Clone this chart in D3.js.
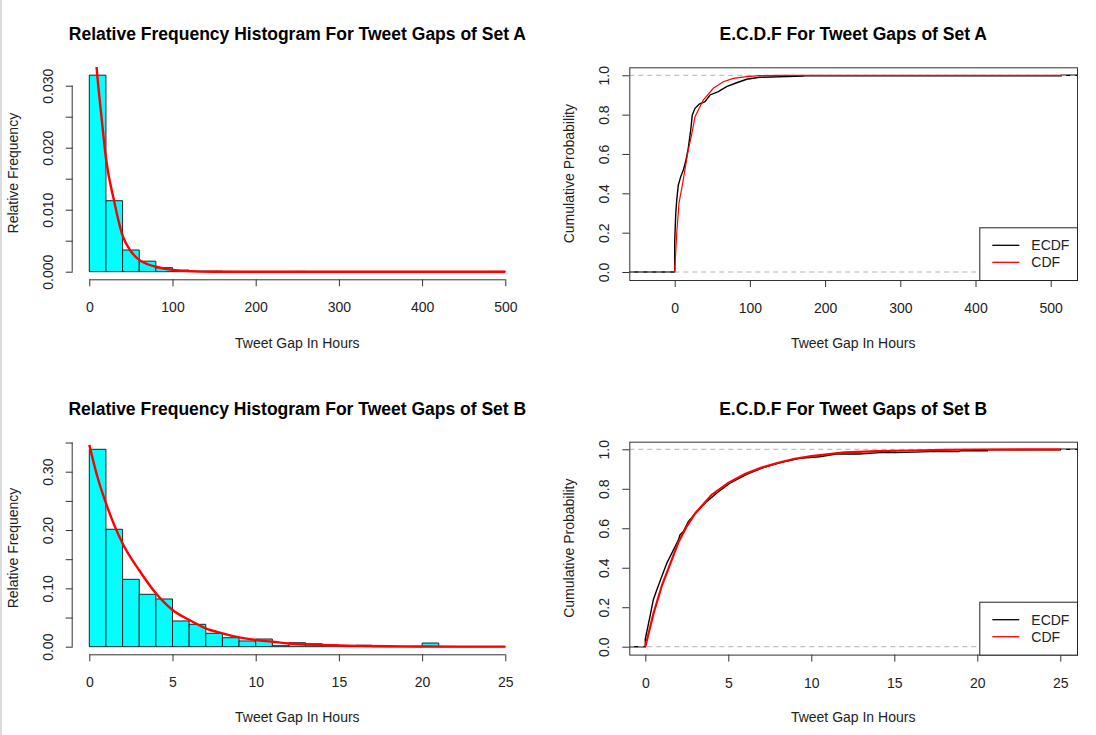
<!DOCTYPE html>
<html>
<head>
<meta charset="utf-8">
<script src="https://cdn.jsdelivr.net/npm/d3@7"></script>
<style>
    body { margin: 0; background: #fff; }
    svg { display: block; font-family: "Liberation Sans", Arial, sans-serif; }
</style>
</head>
<body>
<svg id="main"></svg>
<script>
const width = 1096;
const height = 735;

// DATA -------------------------------------------
// histogram of set A (20 hour bins)
const breaksA = [0, 20, 40, 60, 80, 100, 120, 140, 160, 180, 200, 220, 240, 260, 280, 300,
    320, 340, 360, 380, 400, 420, 440, 460, 480, 500];
const relFreqA = [0.0317, 0.01145, 0.0035, 0.0017, 0.00065, 0.00025, 0.0001, 0.0001, 0.00005, 0,
    0, 0, 0.00005, 0, 0, 0, 0, 0, 0, 0, 0, 0, 0, 0, 0.00005];
// fitted density, set A
const densAx = [0, 8.8, 15, 20, 30, 40, 50, 60, 70, 80, 100, 120, 150, 200, 300, 500];
const densAy = [0.05, 0.0329, 0.0245, 0.0183, 0.0113, 0.0058, 0.0033, 0.0019, 0.0012, 0.0008,
    0.0003, 0.0001, 0, 0, 0, 0];

// histogram of set B (1 hour bins)
const breaksB = [0, 1, 2, 3, 4, 5, 6, 7, 8, 9, 10, 11, 12, 13, 14, 15, 16, 17, 18, 19, 20,
    21, 22, 23, 24, 25];
const relFreqB = [0.3384, 0.2013, 0.1155, 0.0898, 0.0818, 0.0441, 0.0384, 0.0230, 0.0154, 0.0098,
    0.0132, 0.0017, 0.0068, 0.005, 0.003, 0.002, 0.0025, 0, 0, 0, 0.0063, 0, 0, 0, 0];
// fitted density, set B
const densBx = [0, 0.5, 1, 2, 3, 4, 5, 6, 7, 8, 9, 10, 11, 12, 14, 16, 18, 20, 25];
const densBy = [0.346, 0.29, 0.246, 0.177, 0.131, 0.0915, 0.063, 0.046, 0.0315, 0.023, 0.016,
    0.0115, 0.0086, 0.0055, 0.003, 0.0015, 0.0008, 0.0004, 0.0001];

// empirical cdf, set A
const ecdfAx = [0, 0, 1.3, 2.7, 4.8, 8, 11.5, 15, 18, 21.3, 23.4, 27, 32.7, 40.3, 47, 58, 69,
    82.4, 95.7, 113, 171, 171, 514, 514];
const ecdfAy = [0, 0.154, 0.29, 0.366, 0.442, 0.485, 0.519, 0.569, 0.629, 0.722, 0.798, 0.832,
    0.854, 0.866, 0.90, 0.917, 0.942, 0.962, 0.98, 0.99, 0.996, 0.998, 0.998, 1];
// fitted cdf, set A
const cdfAx = [0, 2.7, 5.7, 10.6, 18, 22.6, 27, 38, 51.3, 64.6, 78, 95.7, 113, 150, 514];
const cdfAy = [0, 0.197, 0.35, 0.451, 0.62, 0.70, 0.79, 0.874, 0.934, 0.967, 0.984, 0.993,
    0.998, 1, 1];

// empirical cdf, set B
const ecdfBx = [0, 0, 0.28, 0.48, 0.69, 0.99, 1.29, 1.69, 1.99, 2.09, 2.29, 2.59, 3.1, 3.7, 4.4,
    5.1, 6.1, 7.1, 8.1, 9.3, 10.5, 11.5, 12.9, 14.1, 15.1, 17.2, 18.9, 19, 20.6, 20.6, 25, 25];
const ecdfBy = [0, 0.04, 0.152, 0.237, 0.287, 0.355, 0.422, 0.49, 0.54, 0.566, 0.583, 0.633,
    0.684, 0.735, 0.785, 0.828, 0.873, 0.907, 0.932, 0.954, 0.962, 0.976, 0.976, 0.983, 0.983,
    0.988, 0.988, 0.993, 0.993, 0.997, 0.997, 1];
// fitted cdf, set B
const cdfBx = [0, 0.5, 1, 1.5, 2, 2.5, 3, 4, 5, 6, 7, 8, 9, 10, 12, 14, 16, 18, 20, 25];
const cdfBy = [0, 0.17, 0.31, 0.42, 0.53, 0.61, 0.675, 0.77, 0.83, 0.875, 0.907, 0.932, 0.952,
    0.966, 0.984, 0.991, 0.994, 0.997, 0.999, 1];

// ticks
const ticksHours = [0, 100, 200, 300, 400, 500];
const ticksHoursB = [0, 5, 10, 15, 20, 25];
const histAyTicks = [0, 0.005, 0.01, 0.015, 0.02, 0.025, 0.03];
const histAyLabels = ['0.000', '', '0.010', '', '0.020', '', '0.030'];
const histByTicks = [0, 0.05, 0.1, 0.15, 0.2, 0.25, 0.3, 0.35];
const histByLabels = ['0.00', '', '0.10', '', '0.20', '', '0.30', ''];
const probTicks = [0, 0.2, 0.4, 0.6, 0.8, 1];
const probLabels = ['0.0', '0.2', '0.4', '0.6', '0.8', '1.0'];

const titles = [
    'Relative Frequency Histogram For Tweet Gaps of Set A',
    'E.C.D.F For Tweet Gaps of Set A',
    'Relative Frequency Histogram For Tweet Gaps of Set B',
    'E.C.D.F For Tweet Gaps of Set B',
];
const legendLabels = ['ECDF', 'CDF'];
const legendColors = ['#000000', '#FF0000'];

// SETUP -------------------------------------------
const root = d3.select('svg#main')
    .attr('width', width)
    .attr('height', height);

root.append('rect')
    .attr('width', width).attr('height', height).attr('fill', '#fff');
root.append('rect')
    .attr('x', 0).attr('y', 0).attr('width', 2).attr('height', height).attr('fill', '#dcdcdc');

const axisColor = '#333';
const fontSize = 14;

function zip(xs, ys) {
    return xs.map((x, i) => [x, ys[i]]);
}

function styleAxis(g) {
    g.selectAll('.tick line').attr('stroke', axisColor);
    g.selectAll('.tick text')
        .attr('fill', '#222')
        .style('font-size', fontSize + 'px')
        .style('font-family', '"Liberation Sans", Arial, sans-serif');
}

function bottomAxis(g, x, ticks, yPos) {
    const ax = g.append('g')
        .attr('transform', `translate(0,${yPos})`)
        .call(d3.axisBottom(x).tickValues(ticks).tickSize(7).tickFormat(d3.format('d')));
    ax.select('.domain').remove();
    styleAxis(ax);
    ax.selectAll('.tick text').attr('y', 33).attr('dy', 0);
    return ax;
}

function leftAxis(g, y, ticks, labels, xPos) {
    const ax = g.append('g')
        .attr('transform', `translate(${xPos},0)`)
        .call(d3.axisLeft(y).tickValues(ticks).tickSize(7).tickFormat((d, i) => labels[i]));
    ax.select('.domain').remove();
    styleAxis(ax);
    ax.selectAll('.tick text')
        .attr('x', 0).attr('y', -20).attr('dy', 0)
        .attr('text-anchor', 'middle')
        .attr('transform', 'rotate(-90)');
    return ax;
}

function panelText(g, p, title, ylab) {
    g.append('text')
        .text(title)
        .attr('x', (p.box[0] + p.box[1]) / 2)
        .attr('y', p.titleY)
        .attr('text-anchor', 'middle')
        .style('font-weight', 'bold')
        .style('font-size', '17.5px')
        .attr('fill', '#000');
    g.append('text')
        .text('Tweet Gap In Hours')
        .attr('x', (p.box[0] + p.box[1]) / 2)
        .attr('y', p.xlabY)
        .attr('text-anchor', 'middle')
        .style('font-size', fontSize + 'px')
        .attr('fill', '#222');
    g.append('text')
        .text(ylab)
        .attr('transform', `translate(${p.ylabX},${(p.box[2] + p.box[3]) / 2}) rotate(-90)`)
        .attr('text-anchor', 'middle')
        .style('font-size', fontSize + 'px')
        .attr('fill', '#222');
}

// HISTOGRAMS -------------------------------------------
function drawHist(p) {
    const g = root.append('g');
    const x = d3.scaleLinear().domain(p.xDomain).range(p.xRange);
    const y = d3.scaleLinear().domain(p.yDomain).range(p.yRange);

    const bins = p.freq.map((f, i) => ({ lo: p.breaks[i], hi: p.breaks[i + 1], f: f }));
    g.selectAll('.bar')
        .data(bins).enter()
        .append('path')
        .attr('class', 'bar')
        .attr('d', d => `M${x(d.lo)},${y(0)}V${y(d.f)}H${x(d.hi)}V${y(0)}Z`)
        .attr('fill', '#00FFFF')
        .attr('stroke', '#222')
        .attr('stroke-width', 1);

    const clipId = 'clip' + p.id;
    g.append('clipPath').attr('id', clipId)
        .append('rect')
        .attr('x', p.box[0]).attr('y', p.clipTop)
        .attr('width', p.box[1] - p.box[0]).attr('height', p.box[3] - p.clipTop);

    g.append('path')
        .datum(zip(p.densX, p.densY))
        .attr('clip-path', `url(#${clipId})`)
        .attr('d', d3.line().x(d => x(d[0])).y(d => y(d[1])).curve(d3.curveMonotoneX))
        .attr('fill', 'none')
        .attr('stroke', '#FF0000')
        .attr('stroke-width', 2.4);

    bottomAxis(g, x, p.xTicks, p.box[3]);
    g.append('line')
        .attr('x1', x(p.xTicks[0])).attr('x2', x(p.xTicks[p.xTicks.length - 1]))
        .attr('y1', p.box[3] + 0.5).attr('y2', p.box[3] + 0.5)
        .attr('stroke', axisColor);
    leftAxis(g, y, p.yTicks, p.yLabels, p.box[0]);
    g.append('line')
        .attr('x1', p.box[0] - 0.5).attr('x2', p.box[0] - 0.5)
        .attr('y1', y(p.yTicks[0])).attr('y2', y(p.yTicks[p.yTicks.length - 1]))
        .attr('stroke', axisColor);

    panelText(g, p, p.title, 'Relative Frequency');
}

// ECDF PLOTS -------------------------------------------
function drawEcdf(p) {
    const g = root.append('g');
    const x = d3.scaleLinear().domain(p.xDomain).range(p.xRange);
    const y = d3.scaleLinear().domain([0, 1]).range(p.yRange);
    const xLeft = x.invert(p.box[0]);
    const xRight = x.invert(p.box[1]);

    const clipId = 'clip' + p.id;
    g.append('clipPath').attr('id', clipId)
        .append('rect')
        .attr('x', p.box[0]).attr('y', p.box[2])
        .attr('width', p.box[1] - p.box[0]).attr('height', p.box[3] - p.box[2]);
    const plot = g.append('g').attr('clip-path', `url(#${clipId})`);

    const line = d3.line().x(d => x(d[0])).y(d => y(d[1]));

    // ecdf, with the flat tails out to the plot edges
    const ecdfPts = zip(p.ecdfX, p.ecdfY);
    ecdfPts.unshift([xLeft, 0]);
    ecdfPts.push([xRight, 1]);
    plot.append('path')
        .datum(ecdfPts)
        .attr('d', line)
        .attr('fill', 'none')
        .attr('stroke', '#000')
        .attr('stroke-width', 1.4);

    plot.selectAll('.ref')
        .data([0, 1]).enter()
        .append('line')
        .attr('class', 'ref')
        .attr('x1', p.box[0]).attr('x2', p.box[1])
        .attr('y1', d => y(d)).attr('y2', d => y(d))
        .attr('stroke', '#b3b3b3')
        .attr('stroke-width', 1)
        .attr('stroke-dasharray', '5,4');

    plot.append('path')
        .datum(zip(p.cdfX, p.cdfY))
        .attr('d', line)
        .attr('fill', 'none')
        .attr('stroke', '#FF0000')
        .attr('stroke-width', p.cdfWidth);

    g.append('rect')
        .attr('x', p.box[0] + 0.5).attr('y', p.box[2] + 0.5)
        .attr('width', p.box[1] - p.box[0]).attr('height', p.box[3] - p.box[2])
        .attr('fill', 'none')
        .attr('stroke', axisColor);

    bottomAxis(g, x, p.xTicks, p.box[3]);
    leftAxis(g, y, probTicks, probLabels, p.box[0]);

    // legend
    const lg = g.append('g');
    lg.append('rect')
        .attr('x', p.legend[0] + 0.5).attr('y', p.legend[1] + 0.5)
        .attr('width', p.box[1] - p.legend[0]).attr('height', p.box[3] - p.legend[1])
        .attr('fill', '#fff')
        .attr('stroke', '#222');
    legendLabels.forEach((lab, i) => {
        const cy = p.legend[1] + 18 + i * 17;
        lg.append('line')
            .attr('x1', p.legend[0] + 13).attr('x2', p.legend[0] + 40)
            .attr('y1', cy).attr('y2', cy)
            .attr('stroke', legendColors[i])
            .attr('stroke-width', 1.3);
        lg.append('text')
            .text(lab)
            .attr('x', p.legend[0] + 52)
            .attr('y', cy + 5)
            .style('font-size', fontSize + 'px')
            .attr('fill', '#222');
    });

    panelText(g, p, p.title, 'Cumulative Probability');
}

drawHist({
    id: 'hA',
    breaks: breaksA, freq: relFreqA, densX: densAx, densY: densAy,
    xDomain: [0, 500], xRange: [89.3, 505.3],
    yDomain: [0, 0.03], yRange: [271.7, 85.7],
    box: [72.7, 522, 67, 279.3], clipTop: 67,
    xTicks: ticksHours, yTicks: histAyTicks, yLabels: histAyLabels,
    title: titles[0], titleY: 40, xlabY: 348, ylabX: 18,
});

drawHist({
    id: 'hB',
    breaks: breaksB, freq: relFreqB, densX: densBx, densY: densBy,
    xDomain: [0, 25], xRange: [89.3, 505.3],
    yDomain: [0, 0.3], yRange: [646.7, 471.7],
    box: [72.7, 522, 441.7, 654.3], clipTop: 441.7,
    xTicks: ticksHoursB, yTicks: histByTicks, yLabels: histByLabels,
    title: titles[2], titleY: 415, xlabY: 722, ylabX: 18,
});

drawEcdf({
    id: 'eA',
    ecdfX: ecdfAx, ecdfY: ecdfAy, cdfX: cdfAx, cdfY: cdfAy, cdfWidth: 1.2,
    xDomain: [0, 500], xRange: [674.7, 1050.7], yRange: [272, 75.3],
    box: [629.3, 1077, 67.3, 280],
    legend: [979.3, 227.3],
    xTicks: ticksHours,
    title: titles[1], titleY: 40, xlabY: 348, ylabX: 574,
});

drawEcdf({
    id: 'eB',
    ecdfX: ecdfBx, ecdfY: ecdfBy, cdfX: cdfBx, cdfY: cdfBy, cdfWidth: 2.2,
    xDomain: [0, 25], xRange: [645.3, 1060.3], yRange: [646.7, 449.3],
    box: [629.3, 1077, 441.7, 654.6],
    legend: [979.3, 601.7],
    xTicks: ticksHoursB,
    title: titles[3], titleY: 415, xlabY: 722, ylabX: 574,
});
</script>
</body>
</html>
